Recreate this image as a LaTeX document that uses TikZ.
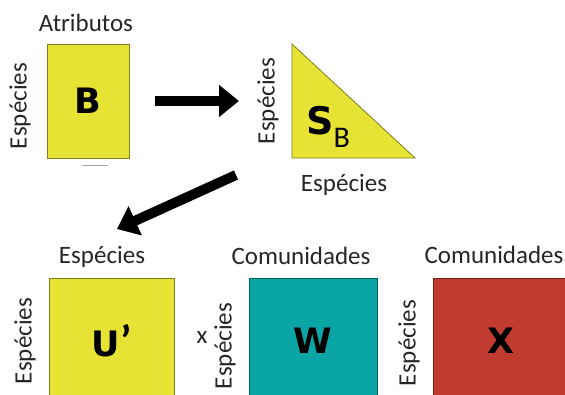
\documentclass[tikz,border=0pt]{standalone}
\usepackage{fontspec}
\setmainfont{Carlito}
\newfontfamily\letterfont{DejaVu Sans}
\usetikzlibrary{arrows.meta,positioning,calc}
\definecolor{matyellow}{RGB}{231,227,52}
\definecolor{matteal}{RGB}{10,166,166}
\definecolor{matred}{RGB}{194,59,49}
\begin{document}
\begin{tikzpicture}[x=1pt, y=-1pt, >=stealth,
    mat-box/.style={rectangle, draw=#1!55!black, fill=#1, line width=0.8pt, inner sep=0pt,
                font=\letterfont\fontsize{35}{42}\selectfont\bfseries},
    label-text/.style={font=\fontsize{25}{30}\selectfont, text=black!85, inner sep=0pt},
    side-text/.style={label-text, rotate=90},
    big-arrow/.style={line width=10pt, -{Triangle[length=20pt, width=31pt]}}]
    \clip (0,0) rectangle (565,394);
    % top row
    \node[mat-box=matyellow, minimum width=82pt, minimum height=114pt] (B) at (88,101) {B};
    \node[label-text] (B-top) at (86,23) {Atributos};
    \node[side-text] (B-left) at (20,106) {Espécies};
    \draw[gray!70, line width=1pt] (82,165) -- (108,165);
    \coordinate (tri-top) at (292,44);
    \coordinate (tri-bl) at (292,158);
    \coordinate (tri-br) at (415,158);
    \draw[draw=matyellow!55!black, fill=matyellow, line width=0.8pt] (tri-top) -- (tri-br) -- (tri-bl) -- cycle;
    \node[font=\letterfont\fontsize{38}{44}\selectfont\bfseries, inner sep=0pt] (SB) at (328,127)
        {S{\rmfamily\fontsize{30}{36}\selectfont\mdseries\raisebox{-13pt}{B}}};
    \node[side-text] (tri-left) at (268,101) {Espécies};
    \node[label-text] (tri-bottom) at (344,185) {Espécies};
    % arrows
    \coordinate (a1-start) at (155,101);
    \coordinate (a1-end) at (239,101);
    \draw[big-arrow] (a1-start) -- (a1-end);
    \coordinate (a2-start) at (236,175);
    \coordinate (a2-end) at (117,229);
    \draw[big-arrow] (a2-start) -- (a2-end);
    % bottom row
    \node[mat-box=matyellow, minimum width=125pt, minimum height=126pt] (U) at (111.5,341)
        {U{\rmfamily\fontsize{44}{48}\selectfont’}};
    \node[mat-box=matteal, minimum width=128pt, minimum height=126pt] (W) at (313,341) {W};
    \node[mat-box=matred, minimum width=135pt, minimum height=126pt] (X) at (500.5,341) {X};
    \node[label-text] (U-top) at (102,257) {Espécies};
    \node[label-text] (W-top) at (301,256) {Comunidades};
    \node[label-text] (X-top) at (494,255) {Comunidades};
    \node[side-text] (U-left) at (25,341) {Espécies};
    \node[side-text] (W-left) at (225,346) {Espécies};
    \node[side-text] (X-left) at (409,343) {Espécies};
    \node[label-text] (times) at (202,338) {x};
\end{tikzpicture}
\end{document}
